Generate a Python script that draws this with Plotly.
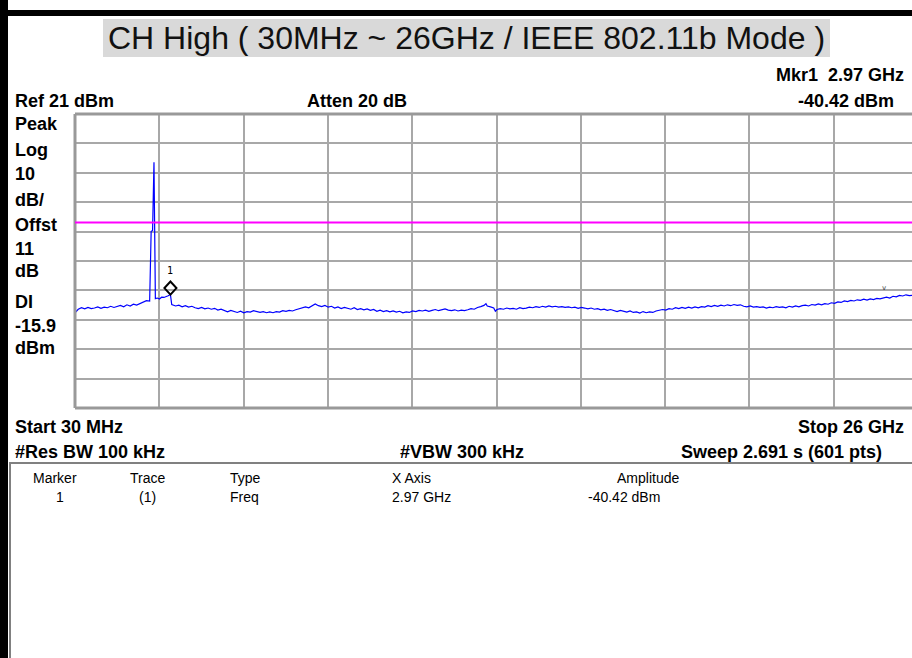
import plotly.graph_objects as go

# ---------------- data ----------------
START_GHZ = 0.03
STOP_GHZ = 26.0
REF_LEVEL = 21.0
DB_PER_DIV = 10.0
DISPLAY_LINE = -15.9
MKR_FREQ = 2.97
MKR_LEVEL = -40.42

FREQ_GHZ = [
    0.03, 0.13, 0.23, 0.33, 0.43, 0.53, 0.63, 0.73, 0.83, 0.93,
    1.03, 1.13, 1.23, 1.33, 1.43, 1.53, 1.63, 1.73, 1.83, 1.93,
    2.03, 2.13, 2.23, 2.33, 2.376, 2.42, 2.463, 2.506, 2.57, 2.63, 2.70, 2.77, 2.83, 2.90, 2.97,
    3.01, 3.13, 3.23, 3.33, 3.43, 3.53, 3.63, 3.73, 3.83, 3.93,
    4.03, 4.13, 4.23, 4.33, 4.43, 4.53, 4.63, 4.73, 4.83, 4.93,
    5.03, 5.13, 5.23, 5.33, 5.43, 5.53, 5.63, 5.73, 5.83, 5.93,
    6.03, 6.13, 6.23, 6.33, 6.43, 6.53, 6.63, 6.73, 6.83, 6.93,
    7.03, 7.13, 7.23, 7.33, 7.43, 7.53, 7.63, 7.73, 7.83, 7.93,
    8.03, 8.13, 8.23, 8.33, 8.43, 8.53, 8.63, 8.73, 8.83, 8.93,
    9.03, 9.13, 9.23, 9.33, 9.43, 9.53, 9.63, 9.73, 9.83, 9.93,
    10.03, 10.13, 10.23, 10.33, 10.43, 10.53, 10.63, 10.73, 10.83, 10.93,
    11.03, 11.13, 11.23, 11.33, 11.43, 11.53, 11.63, 11.73, 11.83, 11.93,
    12.03, 12.13, 12.23, 12.33, 12.43, 12.53, 12.63, 12.69, 12.73, 12.83, 12.93, 12.98,
    13.03, 13.13, 13.23, 13.33, 13.43, 13.53, 13.63, 13.73, 13.83, 13.93,
    14.03, 14.13, 14.23, 14.33, 14.43, 14.53, 14.63, 14.73, 14.83, 14.93,
    15.03, 15.13, 15.23, 15.33, 15.43, 15.53, 15.63, 15.73, 15.83, 15.93,
    16.03, 16.13, 16.23, 16.33, 16.43, 16.53, 16.63, 16.73, 16.83, 16.93,
    17.03, 17.13, 17.23, 17.33, 17.43, 17.53, 17.63, 17.73, 17.83, 17.93,
    18.03, 18.13, 18.23, 18.33, 18.43, 18.53, 18.63, 18.73, 18.83, 18.93,
    19.03, 19.13, 19.23, 19.33, 19.43, 19.53, 19.63, 19.73, 19.83, 19.93,
    20.03, 20.13, 20.23, 20.33, 20.43, 20.53, 20.63, 20.73, 20.83, 20.93,
    21.03, 21.13, 21.23, 21.33, 21.43, 21.53, 21.63, 21.73, 21.83, 21.93,
    22.03, 22.13, 22.23, 22.33, 22.43, 22.53, 22.63, 22.73, 22.83, 22.93,
    23.03, 23.13, 23.23, 23.33, 23.43, 23.53, 23.63, 23.73, 23.83, 23.93,
    24.03, 24.13, 24.23, 24.33, 24.43, 24.53, 24.63, 24.73, 24.83, 24.93,
    25.03, 25.13, 25.23, 25.33, 25.43, 25.53, 25.63, 25.73, 25.83, 25.93, 25.97,
]

LEVEL_DBM = [
    -46.6, -45.4, -44.9, -45.3, -44.8, -45.2, -45.0, -44.6, -45.1, -44.7,
    -44.9, -44.4, -44.8, -44.5, -44.1, -44.6, -43.9, -44.3, -43.7, -44.0,
    -43.5, -43.2, -42.5, -42.6, -19.0, -18.6, 4.6, -41.8, -41.6, -41.9, -41.3, -41.4, -41.0, -40.8, -40.42,
    -43.8, -44.3, -44.0, -44.6, -44.2, -44.7, -44.4, -44.9, -45.2, -44.8,
    -45.3, -45.0, -45.4, -45.1, -45.7, -45.4, -45.9, -46.3, -45.8, -46.2,
    -46.5, -46.1, -46.6, -46.2, -46.4, -45.9, -46.3, -46.5, -46.2, -46.6,
    -46.3, -46.6, -46.2, -46.4, -45.9, -46.1, -45.8, -46.0, -45.6, -45.3,
    -45.1, -44.6, -44.9, -44.3, -43.6, -44.2, -44.5, -44.1, -44.7, -44.4,
    -45.0, -44.6, -45.2, -44.8, -45.1, -45.4, -44.9, -45.5, -45.2, -45.6,
    -45.3, -45.8, -45.5, -46.1, -45.7, -46.2, -45.9, -46.3, -46.0, -46.4,
    -46.1, -46.6, -46.3, -46.5, -46.0, -46.2, -45.8, -46.0, -45.7, -46.1,
    -45.8, -45.5, -45.9, -45.6, -45.3, -45.7, -45.9, -45.6, -46.0, -45.7,
    -45.9, -45.6, -45.2, -45.4, -44.8, -44.5, -44.1, -43.5, -44.3, -44.6, -45.0, -46.1,
    -45.5, -45.2, -45.4, -45.0, -45.3, -45.1, -45.4, -44.9, -45.2, -45.0,
    -44.7, -44.9, -44.5, -44.8, -44.4, -44.7, -44.3, -44.6, -44.4, -44.7,
    -44.5, -44.8, -44.6, -44.9, -44.7, -45.1, -44.8, -45.0, -45.3, -45.0,
    -45.4, -45.2, -45.6, -45.4, -45.8, -45.5, -45.9, -46.2, -45.8, -46.1,
    -46.4, -46.0, -46.5, -46.3, -46.7, -46.2, -46.6, -46.3, -46.5, -46.0,
    -45.8, -45.5, -45.7, -45.2, -45.4, -44.9, -45.2, -44.8, -45.1, -44.7,
    -45.0, -44.6, -44.9, -44.5, -44.7, -44.2, -44.5, -44.1, -44.4, -44.0,
    -44.3, -43.9, -44.2, -43.8, -44.1, -43.9, -44.4, -44.6, -44.3, -44.7,
    -44.5, -44.8, -44.6, -45.0, -44.7, -44.9, -44.5, -44.8, -44.6, -44.9,
    -44.4, -44.7, -44.3, -44.6, -44.2, -44.0, -44.3, -43.8, -44.0, -43.6,
    -43.9, -43.5, -43.7, -43.2, -43.4, -42.9, -43.1, -42.6, -42.8, -42.4,
    -42.6, -42.2, -42.4, -42.0, -42.3, -41.9, -42.1, -41.7, -41.9, -41.5,
    -41.3, -41.6, -41.0, -41.2, -40.7, -40.9, -40.5, -40.8, -40.6, -40.4, -40.5,
]

TITLE = "CH High ( 30MHz ~ 26GHz / IEEE 802.11b Mode )"
LEFT_LABELS = ["Peak", "Log", "10", "dB/", "Offst", "11", "dB", "DI", "-15.9", "dBm"]
TABLE_HEADER = ["Marker", "Trace", "Type", "X Axis", "Amplitude"]
TABLE_ROW = ["1", "(1)", "Freq", "2.97 GHz", "-40.42 dBm"]

# ---------------- layout helpers ----------------
W, H = 912, 658
def px(x):
    return x / W
def py(y):
    return 1 - y / H

PLOT_L, PLOT_R_FULL, PLOT_T, PLOT_B = 75, 918, 114, 408
span = STOP_GHZ - START_GHZ
x_vis_end = START_GHZ + span * (W - PLOT_L) / (PLOT_R_FULL - PLOT_L)
bottom_level = REF_LEVEL - 10 * DB_PER_DIV

fig = go.Figure()
fig.add_trace(go.Scatter(x=FREQ_GHZ, y=LEVEL_DBM, mode="lines",
                         line=dict(color="#0000ff", width=1.2), hoverinfo="skip",
                         showlegend=False))

grid_x = [START_GHZ + k * span / 10 for k in range(1, 10)]
grid_y = [bottom_level + k * DB_PER_DIV for k in range(1, 10)]

fig.update_layout(
    width=W, height=H, margin=dict(l=0, r=0, t=0, b=0),
    paper_bgcolor="white", plot_bgcolor="white", showlegend=False,
    xaxis=dict(domain=[px(PLOT_L), 1.0], range=[START_GHZ, x_vis_end],
               tickvals=grid_x, showticklabels=False, ticks="",
               showgrid=True, gridcolor="#a8a8a8", gridwidth=2, zeroline=False),
    yaxis=dict(domain=[py(PLOT_B), py(PLOT_T)], range=[bottom_level, REF_LEVEL],
               tickvals=grid_y, showticklabels=False, ticks="",
               showgrid=True, gridcolor="#a8a8a8", gridwidth=2, zeroline=False),
)

shapes = []
# outer black frame
shapes.append(dict(type="rect", xref="paper", yref="paper", x0=0, x1=px(8), y0=0, y1=1,
                   fillcolor="black", line=dict(width=0)))
shapes.append(dict(type="rect", xref="paper", yref="paper", x0=0, x1=1.01, y0=py(16), y1=py(10),
                   fillcolor="black", line=dict(width=0)))
# title background
shapes.append(dict(type="rect", xref="paper", yref="paper", x0=px(103), x1=px(830), y0=py(57), y1=py(19),
                   fillcolor="#d9d9d9", line=dict(width=0), layer="below"))
# plot border
for (x0, y0, x1, y1) in [(PLOT_L, PLOT_T, PLOT_R_FULL, PLOT_T), (PLOT_L, PLOT_B, PLOT_R_FULL, PLOT_B),
                         (PLOT_L, PLOT_T, PLOT_L, PLOT_B)]:
    shapes.append(dict(type="line", xref="paper", yref="paper", x0=px(x0), x1=px(x1), y0=py(y0), y1=py(y1),
                       line=dict(color="#999999", width=3)))
# display line
shapes.append(dict(type="line", xref="paper", yref="y", x0=px(PLOT_L), x1=1.01,
                   y0=DISPLAY_LINE, y1=DISPLAY_LINE, line=dict(color="#ff00ff", width=2)))
# marker diamond (pixel-sized, anchored on marker point)
shapes.append(dict(type="path", xref="x", yref="y", xsizemode="pixel", ysizemode="pixel",
                   xanchor=MKR_FREQ, yanchor=MKR_LEVEL,
                   path="M0,0 L6,6.5 L0,13 L-6,6.5 Z", line=dict(color="black", width=2)))
# marker table frame
shapes.append(dict(type="rect", xref="paper", yref="paper", x0=px(10), x1=1.02, y0=-0.02, y1=py(463),
                   line=dict(color="#808080", width=2)))
fig.update_layout(shapes=shapes)

ann = []
def label(text, x, y, anchor="left", size=18, bold=True, family="Liberation Sans, Arial, sans-serif"):
    t = f"<b>{text}</b>" if bold else text
    ann.append(dict(text=t, xref="paper", yref="paper", x=px(x), y=py(y), xanchor=anchor,
                    yanchor="middle", showarrow=False, font=dict(family=family, size=size, color="black")))

# title
ann.append(dict(text=TITLE, xref="paper", yref="paper", x=px(466), y=py(38), xanchor="center",
                yanchor="middle", showarrow=False,
                font=dict(family="Liberation Sans, Arial, sans-serif", size=32, color="#111111")))

label("Mkr1  2.97 GHz", 906, 75, "right")
label("Ref 21 dBm", 13, 101)
label("Atten 20 dB", 305, 101)
label("-40.42 dBm", 896, 101, "right")
left_y = [124, 150, 174, 200, 225, 249, 271, 302, 326, 348]
for t, y in zip(LEFT_LABELS, left_y):
    label(t, 13, y)
label("Start 30 MHz", 13, 427)
label("Stop 26 GHz", 906, 427, "right")
label("#Res BW 100 kHz", 13, 452)
label("#VBW 300 kHz", 398, 452)
label("Sweep 2.691 s (601 pts)", 679, 452)

hdr_x = [(55, "center"), (147, "center"), (228, "left"), (390, "left"), (648, "center")]
row_x = [(60, "center"), (147, "center"), (228, "left"), (390, "left"), (586, "left")]
for t, (x, a) in zip(TABLE_HEADER, hdr_x):
    label(t, x, 478, a, size=14, bold=False)
for t, (x, a) in zip(TABLE_ROW, row_x):
    label(t, x, 497, a, size=14, bold=False)

# marker number
ann.append(dict(text="1", xref="x", yref="y", x=MKR_FREQ, y=MKR_LEVEL, yshift=24, showarrow=False,
                xanchor="center", yanchor="middle",
                font=dict(family="DejaVu Sans Mono, monospace", size=10, color="black")))
# small peak indicator
ann.append(dict(text="v", xref="x", yref="y", x=24.95, y=-38.2, showarrow=False,
                xanchor="center", yanchor="middle",
                font=dict(family="DejaVu Sans Mono, monospace", size=7, color="#333333")))

fig.update_layout(annotations=ann)
fig.write_html("out.html")
